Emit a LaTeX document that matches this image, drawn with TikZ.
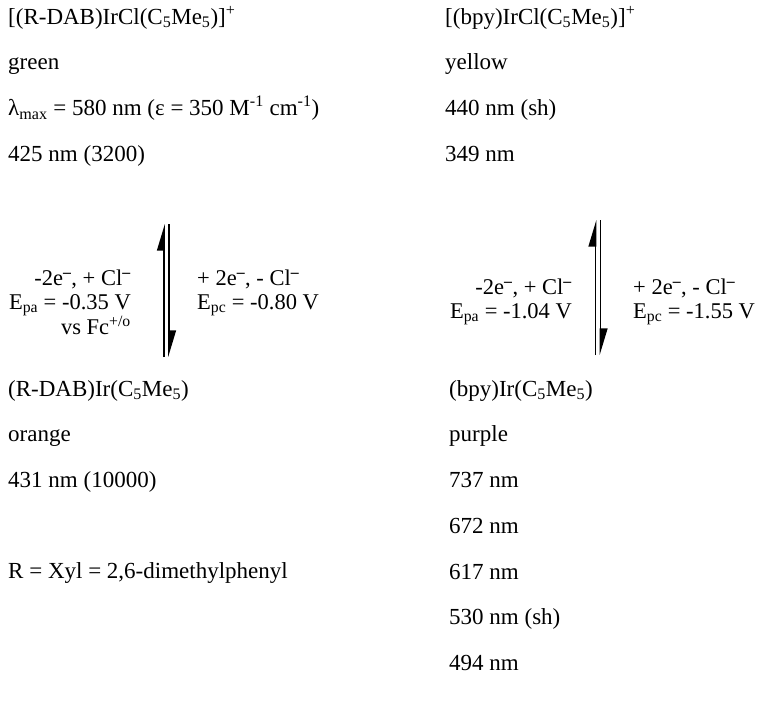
\documentclass[tikz,border=0pt]{standalone}
\usepackage{fontspec}
\setmainfont{Liberation Serif}
\usetikzlibrary{arrows.meta, positioning}

\newcommand{\cpstar}{(C\textsubscript{5}Me\textsubscript{5})}
\newcommand{\eminus}{\textsuperscript{\textbf{–}}}

\begin{document}
\begin{tikzpicture}[
    x=1pt, y=1pt,
    node distance=23.3pt,
    label/.style={inner sep=0pt, font=\fontsize{23}{27}\selectfont, text height=16pt, text depth=6pt, anchor=north west},
    cond/.style={inner sep=0pt, font=\fontsize{22.5}{24}\selectfont},
    fwd/.style={-{Stealth[left, length=24pt, width=14pt, inset=0pt]}, line width=1.6pt}
]
\useasboundingbox (0,0) rectangle (757,-709);

% DAB complex, top
\node[label] (dabCl) at (8,-8) {[(R-DAB)IrCl\cpstar]\textsuperscript{+}};
\node[label, below=of dabCl.south west, anchor=north west] (green) {green};
\node[label, below=of green.south west, anchor=north west] (lmax) {λ\textsubscript{max} = 580 nm (ε = 350 M\textsuperscript{-1} cm\textsuperscript{-1})};
\node[label, below=of lmax.south west, anchor=north west] (dabBand) {425 nm (3200)};

% DAB complex, bottom
\node[label] (dabIr) at (8,-380) {(R-DAB)Ir\cpstar};
\node[label, below=of dabIr.south west, anchor=north west] (orange) {orange};
\node[label, below=of orange.south west, anchor=north west] (dabIrBand) {431 nm (10000)};
\node[label, below=68.6pt of dabIrBand.south west, anchor=north west] (xyl) {R = Xyl = 2,6-dimethylphenyl};

% bpy complex, top
\node[label] (bpyCl) at (445,-8) {[(bpy)IrCl\cpstar]\textsuperscript{+}};
\node[label, below=of bpyCl.south west, anchor=north west] (yellow) {yellow};
\node[label, below=of yellow.south west, anchor=north west] (bpyShoulder) {440 nm (sh)};
\node[label, below=of bpyShoulder.south west, anchor=north west] (bpyBand) {349 nm};

% bpy complex, bottom
\node[label] (bpyIr) at (449,-380) {(bpy)Ir\cpstar};
\node[label, below=of bpyIr.south west, anchor=north west] (purple) {purple};
\node[label, below=of purple.south west, anchor=north west] (bandA) {737 nm};
\node[label, below=of bandA.south west, anchor=north west] (bandB) {672 nm};
\node[label, below=of bandB.south west, anchor=north west] (bandC) {617 nm};
\node[label, below=of bandC.south west, anchor=north west] (bandD) {530 nm (sh)};
\node[label, below=of bandD.south west, anchor=north west] (bandE) {494 nm};

% equilibrium arrows
\coordinate (eqAtop) at (166.5,-224);
\coordinate (eqAbot) at (166.5,-357);
\draw[fwd] ([xshift=-2.5pt]eqAbot) -- ([xshift=-2.5pt]eqAtop);
\draw[fwd] ([xshift=2.5pt]eqAtop) -- ([xshift=2.5pt]eqAbot);

\coordinate (eqBtop) at (598,-220);
\coordinate (eqBbot) at (598,-355);
\draw[fwd] ([xshift=-2.5pt]eqBbot) -- ([xshift=-2.5pt]eqBtop);
\draw[fwd] ([xshift=2.5pt]eqBtop) -- ([xshift=2.5pt]eqBbot);

% redox conditions
\node[cond, align=right, anchor=east] (oxA) at (131,-302) {-2e\eminus, + Cl\eminus\\E\textsubscript{pa} = -0.35 V\\vs Fc\textsuperscript{+/o}};
\node[cond, align=left, anchor=west] (redA) at (197,-292.5) {+ 2e\eminus, - Cl\eminus\\E\textsubscript{pc} = -0.80 V};
\node[cond, align=right, anchor=east] (oxB) at (572,-301.5) {-2e\eminus, + Cl\eminus\\E\textsubscript{pa} = -1.04 V};
\node[cond, align=left, anchor=west] (redB) at (633,-301.5) {+ 2e\eminus, - Cl\eminus\\E\textsubscript{pc} = -1.55 V};

\end{tikzpicture}
\end{document}
